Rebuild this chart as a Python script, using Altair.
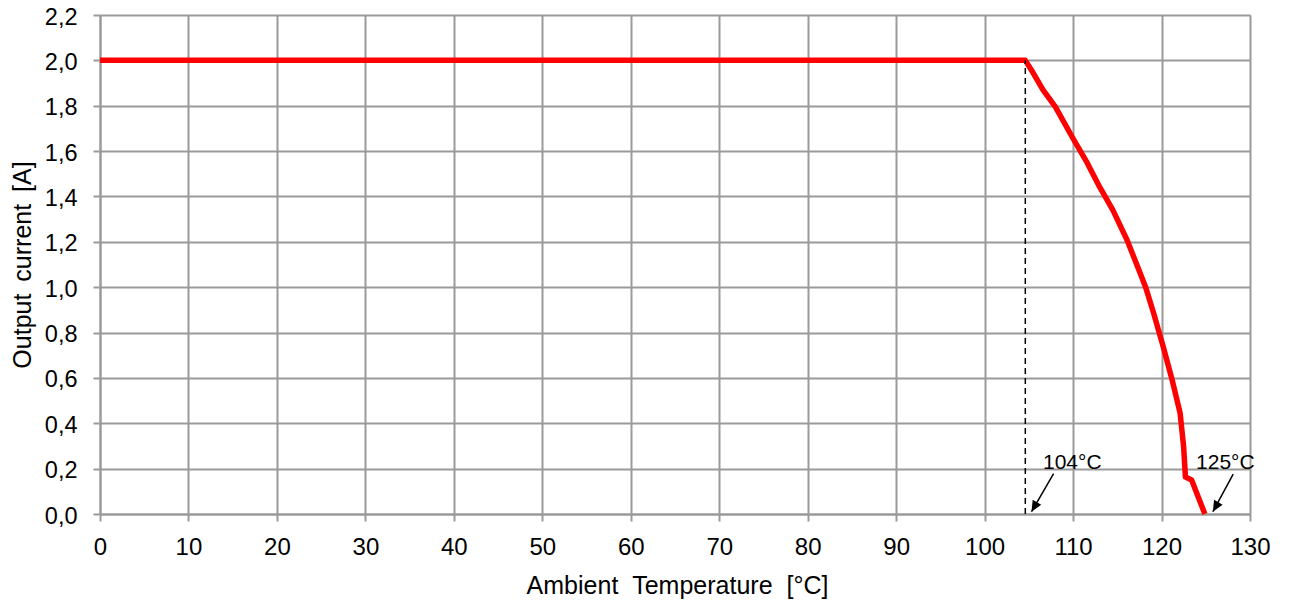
import altair as alt
import pandas as pd

# Derating curve
temps = [0, 104.6, 105.5, 106.6, 108.0, 109.9, 111.6, 113.0, 114.5, 116.1, 117.6,
         118.2, 119.1, 120.2, 121.2, 122.1, 122.5, 122.7, 123.4, 124.9]
currents = [2.0, 2.0, 1.944, 1.87, 1.795, 1.662, 1.548, 1.442, 1.340, 1.208, 1.06,
            1.0, 0.886, 0.736, 0.591, 0.445, 0.295, 0.163, 0.150, 0.0]

x_ticks = list(range(0, 131, 10))
y_ticks = [0.0, 0.2, 0.4, 0.6, 0.8, 1.0, 1.2, 1.4, 1.6, 1.8, 2.0, 2.2]

# Dashed marker line
knee_x = [104.6, 104.6]
knee_y = [0.0, 2.0]

# Annotations
ann_text = ["104°C", "125°C"]
ann_text_x = [106.6, 123.9]
ann_text_y = [0.20, 0.20]
arrow_x1 = [107.8, 128.1]
arrow_y1 = [0.178, 0.176]
arrow_x2 = [105.3, 125.8]
arrow_y2 = [0.01, 0.01]

curve = pd.DataFrame({"t": temps, "i": currents})
knee = pd.DataFrame({"t": knee_x, "i": knee_y})
ann = pd.DataFrame({"label": ann_text, "tx": ann_text_x, "ty": ann_text_y,
                    "x1": arrow_x1, "y1": arrow_y1, "x2": arrow_x2, "y2": arrow_y2})

GRID = "#9a9a9a"
FONT = "Liberation Sans"
NB = "\u00a0"

xscale = alt.Scale(domain=[0, 130], nice=False, zero=False)
yscale = alt.Scale(domain=[0, 2.2], nice=False)

xaxis = alt.Axis(values=x_ticks, title=f"Ambient{NB}{NB}Temperature{NB}{NB}[°C]",
                 grid=True, gridColor=GRID, gridWidth=2,
                 domainColor=GRID, domainWidth=2, tickColor=GRID, tickWidth=2, tickSize=7,
                 labelFont=FONT, labelFontSize=24, labelColor="black",
                 labelBaseline="alphabetic", labelPadding=33, labelFlush=False,
                 titleFont=FONT, titleFontSize=25, titleFontWeight="normal", titleColor="black",
                 titleBaseline="alphabetic", titleY=79, titleX=577)
yaxis = alt.Axis(values=y_ticks, title=f"Output{NB}\u2009current{NB}\u2009[A]",
                 labelExpr="replace(format(datum.value, '.1f'), '.', ',')",
                 grid=True, gridColor=GRID, gridWidth=2,
                 domainColor=GRID, domainWidth=2, tickColor=GRID, tickWidth=2, tickSize=7,
                 labelFont=FONT, labelFontSize=23.5, labelColor="black", labelPadding=16,
                 labelOffset=2, labelFlush=False,
                 titleFont=FONT, titleFontSize=25, titleFontWeight="normal", titleColor="black",
                 titleBaseline="middle", titleX=-78, titleAngle=270)

line = alt.Chart(curve).mark_line(color="#ff0000", strokeWidth=5.5, strokeJoin="round").encode(
    x=alt.X("t:Q", scale=xscale, axis=xaxis),
    y=alt.Y("i:Q", scale=yscale, axis=yaxis),
)

dash = alt.Chart(knee).mark_line(color="black", strokeWidth=1.5, strokeDash=[6, 4]).encode(
    x=alt.X("t:Q", scale=xscale), y=alt.Y("i:Q", scale=yscale)
)

shaft = alt.Chart(ann).mark_rule(color="black", strokeWidth=1.5).encode(
    x=alt.X("x1:Q", scale=xscale), y=alt.Y("y1:Q", scale=yscale),
    x2="x2:Q", y2="y2:Q"
)

head = alt.Chart(ann).mark_point(
    shape="M0,0 L-0.45,1 L0.45,1 Z", filled=True, color="black", size=480,
    angle=210, opacity=1, strokeWidth=0
).encode(x=alt.X("x2:Q", scale=xscale), y=alt.Y("y2:Q", scale=yscale))

labels = alt.Chart(ann).mark_text(align="left", baseline="alphabetic", font=FONT,
                                  fontSize=21, color="black").encode(
    x=alt.X("tx:Q", scale=xscale), y=alt.Y("ty:Q", scale=yscale), text="label:N"
)

chart = alt.layer(line, dash, shaft, head, labels).properties(
    width=1150, height=499,
    autosize=alt.AutoSizeParams(type="none"),
    padding={"left": 92, "top": 7, "right": 24, "bottom": 86},
).configure_view(stroke=None).configure(background="white")

chart.save("out.html", embed_options={"renderer": "svg", "actions": False})
